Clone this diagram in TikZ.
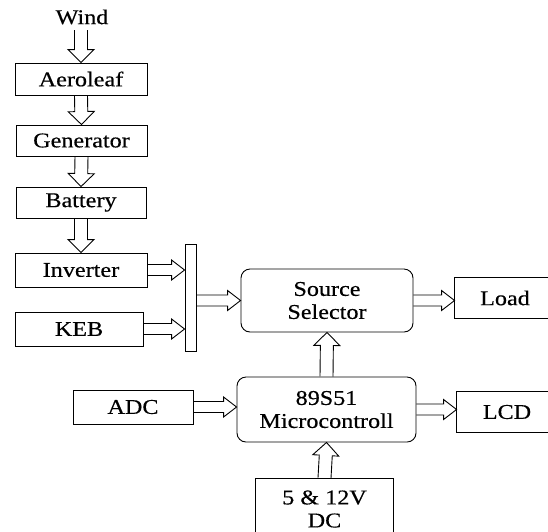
\documentclass[tikz,border=0pt]{standalone}
\usepackage{fontspec}
\setmainfont{Liberation Serif}[FakeStretch=1.15, FakeBold=0.4]
\usetikzlibrary{calc}
\tikzset{
  box/.style={draw, line width=0.9pt, rectangle, inner sep=0pt, align=center,
    font=\fontsize{21}{23}\selectfont},
  openbox/.style={box, draw=none},
  rbox/.style={box, rounded corners=9pt},
  lbl/.style={inner sep=0pt, align=center, font=\fontsize{21}{23}\selectfont},
  fatline/.style={draw, line width=0.9pt, line join=miter},
  edge/.style={draw, line width=0.9pt},
}
% #1 shaft half-width, #2 head half-width, #3 from, #4 to
\newcommand\fatarrow[4]{%
  \coordinate (fa) at (#3);
  \coordinate (fb) at (#4);
  \coordinate (fc) at ($(fb)!13pt!(fa)$);
  \draw[fatline] ($(fa)!#1!90:(fb)$) -- ($(fc)!#1!-90:(fa)$) -- ($(fc)!#2!-90:(fa)$)
     -- (fb) -- ($(fc)!#2!90:(fa)$) -- ($(fc)!#1!90:(fa)$) -- ($(fa)!#1!-90:(fb)$);
}
\newcommand\harr[2]{\fatarrow{5.5pt}{10pt}{#1}{#2}}
\newcommand\varr[2]{\fatarrow{6.5pt}{13pt}{#1}{#2}}
\begin{document}
\begin{tikzpicture}[x=1pt,y=-1pt]
\useasboundingbox (0,0) rectangle (548,531);
\clip (0,0) rectangle (548,531);
\fill[white] (0,0) rectangle (548,531);
\node[lbl] (wind) at (82,17) {Wind};
\coordinate (w1) at (81,30);
\node[box, minimum width=132pt, minimum height=32pt] (aero) at (81,79) {Aeroleaf};
\node[box, minimum width=131pt, minimum height=31pt] (gen) at (81.5,140.5) {Generator};
\node[box, minimum width=130pt, minimum height=31pt] (bat) at (81,202.5) {Battery};
\node[box, minimum width=132pt, minimum height=34pt] (inv) at (81,270) {Inverter};
\node[box, minimum width=128pt, minimum height=34pt] (keb) at (79,329) {KEB};
\node[box, minimum width=11pt, minimum height=107pt] (bar) at (190.5,297.5) {};
\node[rbox, minimum width=172pt, minimum height=63pt] (src) at (327,300.5) {Source\\Selector};
\node[openbox, minimum width=100pt, minimum height=40pt] (load) at (505,298) {Load};
\draw[edge] (load.north east) -- (load.north west) -- (load.south west) -- (load.south east);
\node[rbox, minimum width=179pt, minimum height=65pt] (micro) at (326.5,409.5) {89S51\\Microcontroll};
\node[box, minimum width=120pt, minimum height=34pt] (adc) at (133,407) {ADC};
\node[openbox, minimum width=100pt, minimum height=40pt] (lcd) at (507,412) {LCD};
\draw[edge] (lcd.north east) -- (lcd.north west) -- (lcd.south west) -- (lcd.south east);
\node[openbox, minimum width=137pt, minimum height=90pt, anchor=north] (dc) at (324.5,478) {};
\draw[edge] (dc.south west) -- (dc.north west) -- (dc.north east) -- (dc.south east);
\node[lbl] (dctext) at (324.5,509) {5 \& 12V\\DC};

\varr{w1}{aero.north}
\varr{aero.south}{gen.north}
\varr{gen.south}{bat.north}
\varr{bat.south}{inv.north}
\harr{inv.east}{bar.west |- inv.east}
\harr{keb.east}{bar.west |- keb.east}
\harr{bar.east |- src.west}{src.west}
\harr{src.east}{load.west |- src.east}
\varr{micro.north}{src.south}
\harr{adc.east}{micro.west |- adc.east}
\harr{micro.east}{lcd.west |- micro.east}
\varr{dc.north}{micro.south}
\end{tikzpicture}
\end{document}
